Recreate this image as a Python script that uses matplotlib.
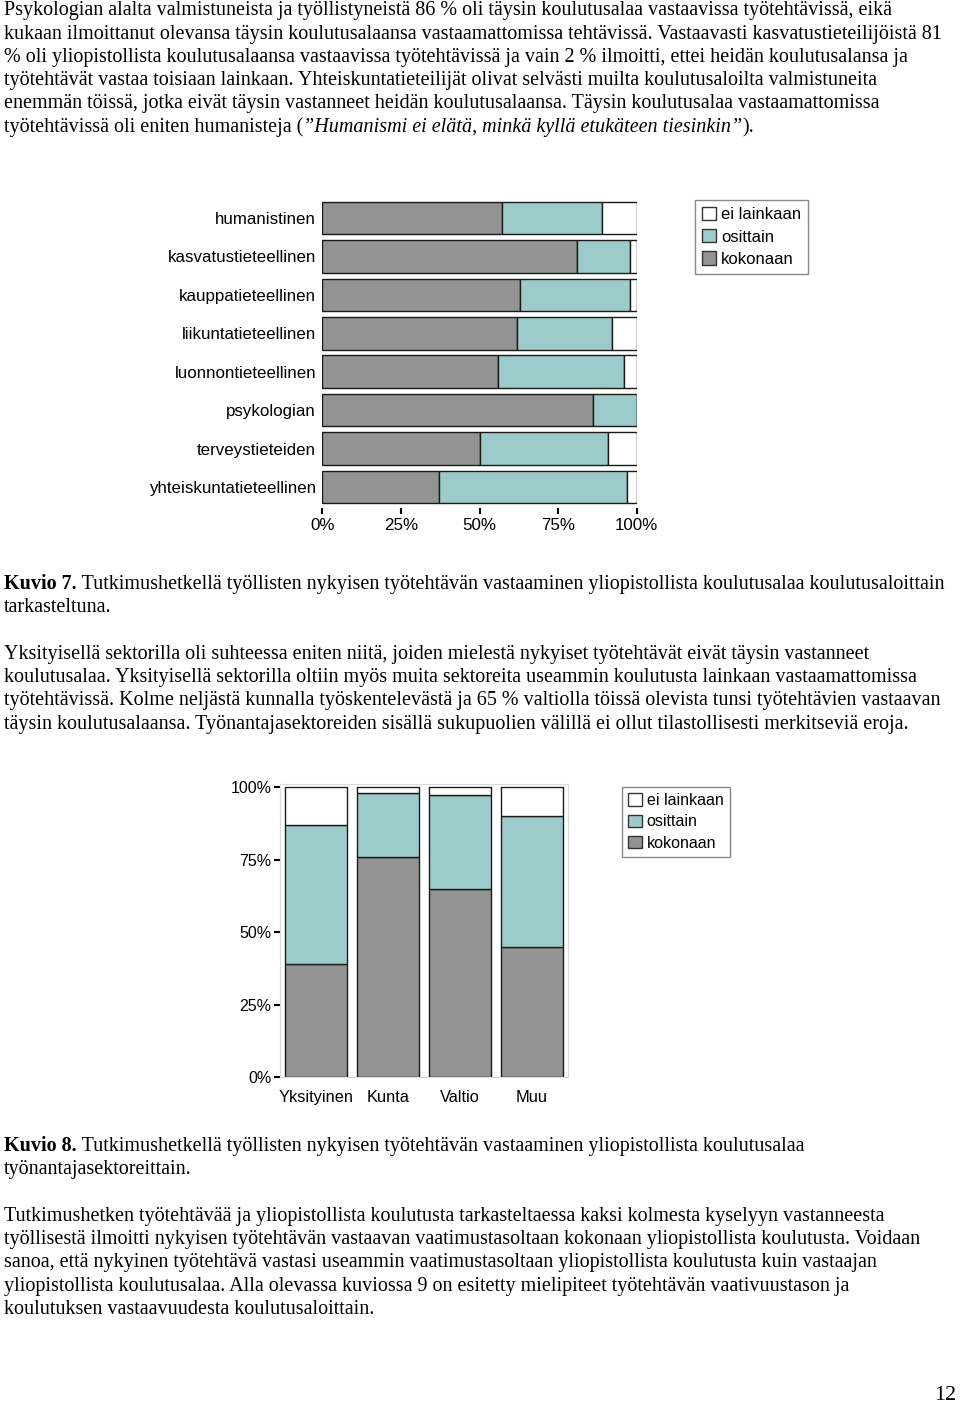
import matplotlib
matplotlib.use("Agg")
import matplotlib.pyplot as plt
from matplotlib.patches import Patch

W, H = 960, 1403
DPI = 100

# Kuvio 7: koulutusalat (prosenttia)
fields = ["humanistinen", "kasvatustieteellinen", "kauppatieteellinen", "liikuntatieteellinen",
          "luonnontieteellinen", "psykologian", "terveystieteiden", "yhteiskuntatieteellinen"]
field_kokonaan = [57, 81, 63, 62, 56, 86, 50, 37]
field_osittain = [32, 17, 35, 30, 40, 14, 41, 60]
field_ei = [11, 2, 2, 8, 4, 0, 9, 3]

# Kuvio 8: työnantajasektorit (prosenttia)
sectors = ["Yksityinen", "Kunta", "Valtio", "Muu"]
sector_kokonaan = [39, 76, 65, 45]
sector_osittain = [48, 22, 32.5, 45]
sector_ei = [13, 2, 2.5, 10]

pct_ticks = [0, 25, 50, 75, 100]
pct_labels = ["0%", "25%", "50%", "75%", "100%"]
legend_labels = ["ei lainkaan", "osittain", "kokonaan"]

GREY = "#939393"
TEAL = "#9dcbcb"
SERIF = "Liberation Serif"
SANS = "Liberation Sans"

# page text, one entry per printed line
para1 = [
    "Psykologian alalta valmistuneista ja työllistyneistä 86 % oli täysin koulutusalaa vastaavissa työtehtävissä, eikä",
    "kukaan ilmoittanut olevansa täysin koulutusalaansa vastaamattomissa tehtävissä. Vastaavasti kasvatustieteilijöistä 81",
    "% oli yliopistollista koulutusalaansa vastaavissa työtehtävissä ja vain 2 % ilmoitti, ettei heidän koulutusalansa ja",
    "työtehtävät vastaa toisiaan lainkaan. Yhteiskuntatieteilijät olivat selvästi muilta koulutusaloilta valmistuneita",
    "enemmän töissä, jotka eivät täysin vastanneet heidän koulutusalaansa. Täysin koulutusalaa vastaamattomissa",
]
para2 = [
    "Yksityisellä sektorilla oli suhteessa eniten niitä, joiden mielestä nykyiset työtehtävät eivät täysin vastanneet",
    "koulutusalaa. Yksityisellä sektorilla oltiin myös muita sektoreita useammin koulutusta lainkaan vastaamattomissa",
    "työtehtävissä. Kolme neljästä kunnalla työskentelevästä ja 65 % valtiolla töissä olevista tunsi työtehtävien vastaavan",
    "täysin koulutusalaansa. Työnantajasektoreiden sisällä sukupuolien välillä ei ollut tilastollisesti merkitseviä eroja.",
]
para3 = [
    "Tutkimushetken työtehtävää ja yliopistollista koulutusta tarkasteltaessa kaksi kolmesta kyselyyn vastanneesta",
    "työllisestä ilmoitti nykyisen työtehtävän vastaavan vaatimustasoltaan kokonaan yliopistollista koulutusta. Voidaan",
    "sanoa, että nykyinen työtehtävä vastasi useammin vaatimustasoltaan yliopistollista koulutusta kuin vastaajan",
    "yliopistollista koulutusalaa. Alla olevassa kuviossa 9 on esitetty mielipiteet työtehtävän vaativuustason ja",
    "koulutuksen vastaavuudesta koulutusaloittain.",
]

lines = []
for y, s in zip([9, 33, 56, 79, 102], para1):
    lines.append((y, [(s, "normal", "normal")]))
lines.append((126, [("työtehtävissä oli eniten humanisteja (", "normal", "normal"),
                    ("”Humanismi ei elätä, minkä kyllä etukäteen tiesinkin”", "normal", "italic"),
                    (").", "normal", "normal")]))
lines.append((583, [("Kuvio 7.", "bold", "normal"),
                    (" Tutkimushetkellä työllisten nykyisen työtehtävän vastaaminen yliopistollista koulutusalaa koulutusaloittain",
                     "normal", "normal")]))
lines.append((606, [("tarkasteltuna.", "normal", "normal")]))
for y, s in zip([653, 676, 699, 723], para2):
    lines.append((y, [(s, "normal", "normal")]))
lines.append((1145, [("Kuvio 8.", "bold", "normal"),
                     (" Tutkimushetkellä työllisten nykyisen työtehtävän vastaaminen yliopistollista koulutusalaa",
                      "normal", "normal")]))
lines.append((1168, [("työnantajasektoreittain.", "normal", "normal")]))
for y, s in zip([1215, 1238, 1261, 1285, 1308], para3):
    lines.append((y, [(s, "normal", "normal")]))


fig = plt.figure(figsize=(W / DPI, H / DPI), dpi=DPI)
fig.patch.set_facecolor("white")
renderer = fig.canvas.get_renderer()


def fx(px):
    return px / W


def fy(py):
    return 1 - py / H


# pick body size so the first line is as wide as in the page
probe = fig.text(0, 0, para1[0], fontsize=10, family=SERIF)
BODY = 10 * 894 / probe.get_window_extent(renderer).width
probe.remove()

for y, segments in lines:
    x = 4
    for s, weight, style in segments:
        t = fig.text(fx(x), fy(y + 6), s, fontsize=BODY, family=SERIF, fontweight=weight,
                     fontstyle=style, ha="left", va="baseline")
        x += t.get_window_extent(renderer).width

fig.text(fx(956), fy(1400), "12", fontsize=BODY * 1.1, family=SERIF, ha="right", va="baseline")


def legend_handles():
    return [Patch(facecolor="white", edgecolor="#333333", label=legend_labels[0]),
            Patch(facecolor=TEAL, edgecolor="#333333", label=legend_labels[1]),
            Patch(facecolor=GREY, edgecolor="#333333", label=legend_labels[2])]


# Kuvio 7
ax1 = fig.add_axes([fx(322.3), fy(508), (636.7 - 322.3) / W, (508 - 200) / H])
ypos = list(range(len(fields)))
left2 = [a + b for a, b in zip(field_kokonaan, field_osittain)]
ax1.barh(ypos, field_kokonaan, height=0.85, color=GREY, edgecolor="#1a1a1a", lw=1)
ax1.barh(ypos, field_osittain, left=field_kokonaan, height=0.85, color=TEAL, edgecolor="#1a1a1a", lw=1)
ax1.barh(ypos, field_ei, left=left2, height=0.85, color="white", edgecolor="#1a1a1a", lw=1)
ax1.set_xlim(0, 100)
ax1.set_ylim(7.546, -0.468)
ax1.set_yticks(ypos)
ax1.set_yticklabels(fields, family=SANS, fontsize=12.2)
ax1.set_xticks(pct_ticks)
ax1.set_xticklabels(pct_labels, family=SANS, fontsize=12.2)
ax1.tick_params(axis="y", length=0, pad=4.5)
ax1.tick_params(axis="x", length=4, width=1.5, color="black", pad=3.5)
for sp in ax1.spines.values():
    sp.set_visible(False)

fig.legend(handles=legend_handles(), loc="upper left", bbox_to_anchor=(fx(695), fy(200)),
           frameon=True, fancybox=False, edgecolor="#888888", framealpha=1,
           prop={"family": SANS, "size": 12}, handlelength=0.85, handleheight=0.85,
           handletextpad=0.3, labelspacing=0.42, borderpad=0.4, borderaxespad=0)

# Kuvio 8
ax2 = fig.add_axes([fx(280), fy(1077.3), 288 / W, 292.9 / H])
xpos = list(range(1, len(sectors) + 1))
bottom2 = [a + b for a, b in zip(sector_kokonaan, sector_osittain)]
ax2.bar(xpos, sector_kokonaan, width=0.85, color=GREY, edgecolor="#1a1a1a", lw=1)
ax2.bar(xpos, sector_osittain, bottom=sector_kokonaan, width=0.85, color=TEAL, edgecolor="#1a1a1a", lw=1)
ax2.bar(xpos, sector_ei, bottom=bottom2, width=0.85, color="white", edgecolor="#1a1a1a", lw=1)
ax2.set_xlim(0.5, 4.5)
ax2.set_ylim(0, 101)
ax2.set_xticks(xpos)
ax2.set_xticklabels(sectors, family=SANS, fontsize=11.8)
ax2.set_yticks(pct_ticks)
ax2.set_yticklabels(pct_labels, family=SANS, fontsize=11.5)
ax2.tick_params(axis="x", length=0, pad=9)
ax2.tick_params(axis="y", length=4, width=1.5, color="black", pad=2)
for sp in ax2.spines.values():
    sp.set_color("#d9d9d9")
    sp.set_linewidth(0.8)

fig.legend(handles=legend_handles(), loc="upper left", bbox_to_anchor=(fx(622), fy(787)),
           frameon=True, fancybox=False, edgecolor="#888888", framealpha=1,
           prop={"family": SANS, "size": 11.5}, handlelength=0.85, handleheight=0.85,
           handletextpad=0.3, labelspacing=0.38, borderpad=0.4, borderaxespad=0)

fig.savefig("out.png", dpi=DPI, facecolor="white")
